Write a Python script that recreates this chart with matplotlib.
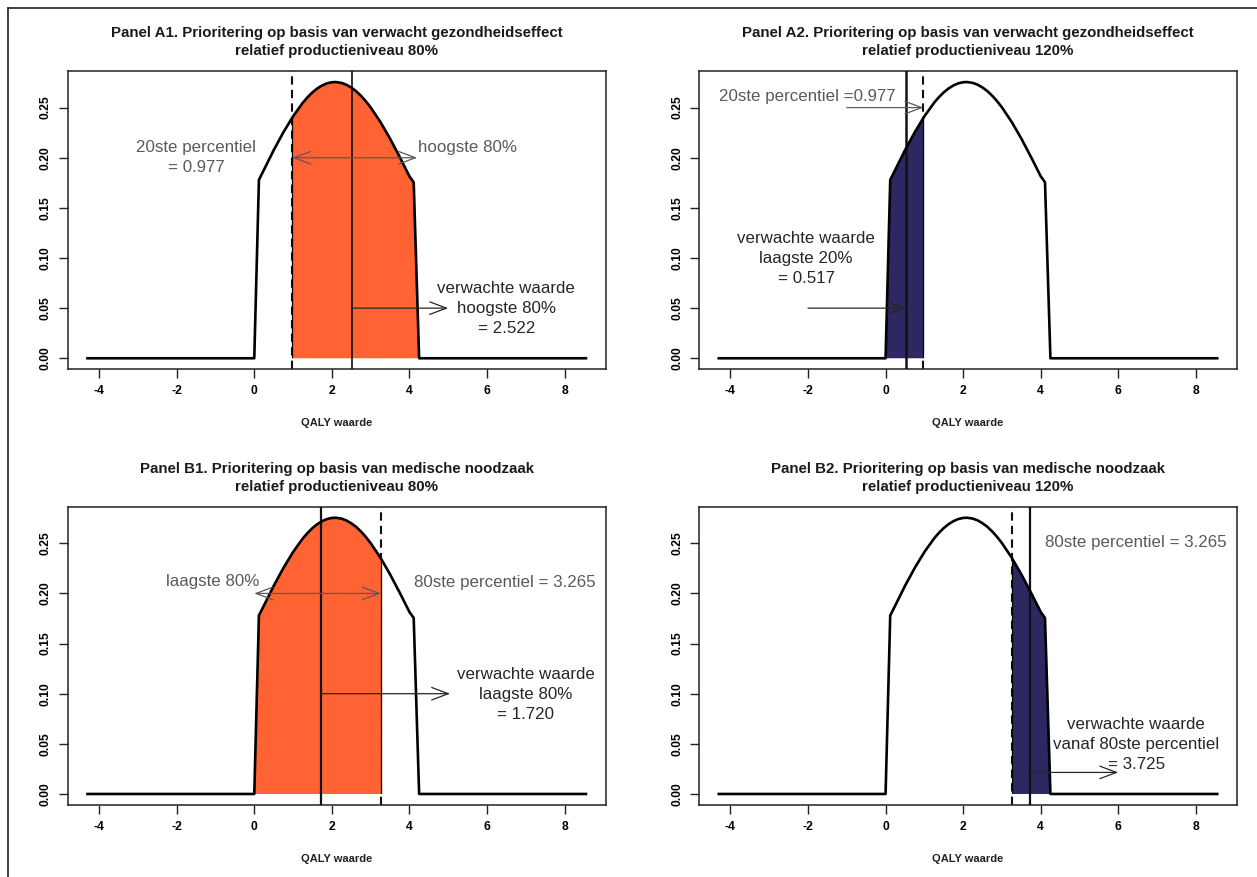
import matplotlib
matplotlib.use("Agg")
import matplotlib.pyplot as plt
from matplotlib.patches import Rectangle
from matplotlib.lines import Line2D

plt.rcParams['font.family'] = ['Liberation Sans', 'DejaVu Sans']

# ---- data ----
# density curve of QALY value
x_curve = [-4.3, 0.0, 0.12, 0.25, 0.5, 0.75, 1.0, 1.25, 1.375, 1.5, 1.625, 1.75, 1.875,
           2.0, 2.1, 2.25, 2.375, 2.5, 2.625, 2.75, 2.875, 3.0, 3.25, 3.5, 3.75, 4.0,
           4.11, 4.25, 8.55]
y_curve = [0.0, 0.0, 0.178, 0.188, 0.2075, 0.2253, 0.2413, 0.2548, 0.2604, 0.2652,
           0.2691, 0.2721, 0.2742, 0.2753, 0.2755, 0.2746, 0.2728, 0.2700, 0.2664,
           0.2618, 0.2564, 0.2502, 0.2358, 0.2191, 0.2007, 0.1815, 0.1755, 0.0, 0.0]

p20 = 0.977
p80 = 3.265
ev_high80 = 2.522
ev_low20 = 0.517
ev_low80 = 1.720
ev_from80 = 3.725

x_ticks = [-4, -2, 0, 2, 4, 6, 8]
y_ticks = [0.00, 0.05, 0.10, 0.15, 0.20, 0.25]

titles = [
    ("Panel A1. Prioritering op basis van verwacht gezondheidseffect", "relatief productieniveau 80%"),
    ("Panel A2. Prioritering op basis van verwacht gezondheidseffect", "relatief productieniveau 120%"),
    ("Panel B1. Prioritering op basis van medische noodzaak", "relatief productieniveau 80%"),
    ("Panel B2. Prioritering op basis van medische noodzaak", "relatief productieniveau 120%"),
]
xlabel = "QALY waarde"

ORANGE = '#FF6233'
NAVY = '#2B2862'
GRAY = '#5a5a5a'
DARK = '#262626'

W, H = 1257, 877
fig = plt.figure(figsize=(W / 100, H / 100), dpi=100)
fig.patch.set_facecolor('white')

ax_w, ax_h = 538 / W, 298.3 / H
lefts = [67.7 / W, 699 / W]
bottoms = [1 - 369.3 / H, 1 - 805 / H]
positions = [(lefts[0], bottoms[0]), (lefts[1], bottoms[0]),
             (lefts[0], bottoms[1]), (lefts[1], bottoms[1])]

axes = []
for i, (l, b) in enumerate(positions):
    ax = fig.add_axes([l, b, ax_w, ax_h])
    ax.set_xlim(-4.81, 9.06)
    ax.set_ylim(-0.011, 0.2865)
    ax.set_xticks(x_ticks)
    ax.set_xticklabels([str(t) for t in x_ticks])
    ax.set_yticks(y_ticks)
    ax.set_yticklabels(["%.2f" % t for t in y_ticks])
    ax.tick_params(axis='both', length=6.5, width=1.0, labelsize=8.7, color='#222222')
    ax.tick_params(axis='x', pad=5)
    ax.tick_params(axis='y', pad=5, labelrotation=90)
    for lab in ax.get_yticklabels():
        lab.set_va('center')
        lab.set_fontweight('bold')
    for lab in ax.get_xticklabels():
        lab.set_fontweight('bold')
    for s in ax.spines.values():
        s.set_linewidth(1.1)
        s.set_color('#222222')
    t1, t2 = titles[i]
    ax.text(0.5, 1 + (71 - 33.5) / 298.3, t1, transform=ax.transAxes, ha='center',
            va='center', fontsize=10.8, fontweight='bold', color='#1a1a1a')
    ax.text(0.5, 1 + (71 - 51.5) / 298.3, t2, transform=ax.transAxes, ha='center',
            va='center', fontsize=10.8, fontweight='bold', color='#1a1a1a')
    ax.text(0.5, -54 / 298.3, xlabel, transform=ax.transAxes, ha='center', va='center',
            fontsize=8, fontweight='bold', color='#222222')
    axes.append(ax)


def shade(ax, lo, hi, color, edges):
    poly = ax.fill_between(x_curve, y_curve, 0, facecolor=color, edgecolor='none', zorder=2)
    poly.set_clip_path(Rectangle((lo, -1), hi - lo, 2, transform=ax.transData))
    path = poly.get_paths()[0]
    for xb in edges:
        ln = ax.axvline(xb, color='k', lw=0.9, zorder=2.5)
        ln.set_clip_path(path, ax.transData)


def curve(ax):
    ax.plot(x_curve, y_curve, color='k', lw=1.9, zorder=4, solid_joinstyle='round')


def vdash(ax, x):
    ax.axvline(x, color='#111111', lw=1.5, linestyle=(0, (4, 2.5)), zorder=1.5)


def vsolid(ax, x, lw=1.5):
    ax.axvline(x, color='#111111', lw=lw, zorder=3)


def arrow(ax, start, end, color, style='->'):
    ax.annotate('', xy=end, xytext=start,
                arrowprops=dict(arrowstyle=style + ',head_length=1.2,head_width=0.45',
                                color=color, lw=0.9, shrinkA=0, shrinkB=0),
                zorder=5)


def label(ax, x, y, s, color, ha='center'):
    ax.text(x, y, s, ha=ha, va='center', fontsize=12.2, color=color,
            multialignment='center', linespacing=1.42, zorder=6)


# Panel A1
ax = axes[0]
vdash(ax, p20)
shade(ax, p20, x_curve[-1], ORANGE, [p20])
vsolid(ax, ev_high80, lw=1.2)
curve(ax)
arrow(ax, (p20, 0.20), (4.2, 0.20), GRAY, '<->')
label(ax, -1.5, 0.200, "20ste percentiel\n= 0.977", GRAY)
label(ax, 4.23, 0.2104, "hoogste 80%", GRAY, ha='left')
arrow(ax, (ev_high80, 0.05), (5.0, 0.05), DARK)
label(ax, 6.5, 0.050, "verwachte waarde\nhoogste 80%\n= 2.522", DARK)

# Panel A2
ax = axes[1]
vdash(ax, p20)
shade(ax, x_curve[0], p20, NAVY, [p20])
vsolid(ax, ev_low20, lw=1.8)
curve(ax)
arrow(ax, (-1.0, 0.25), (p20, 0.25), GRAY)
label(ax, -2.03, 0.261, "20ste percentiel =0.977", GRAY)
label(ax, -2.05, 0.0993, "verwachte waarde\nlaagste 20%\n= 0.517", DARK)
arrow(ax, (-2.0, 0.05), (ev_low20, 0.05), DARK)

# Panel B1
ax = axes[2]
vdash(ax, p80)
shade(ax, x_curve[0], p80, ORANGE, [p80])
vsolid(ax, ev_low80, lw=1.6)
curve(ax)
arrow(ax, (0.0, 0.20), (p80, 0.20), GRAY, '<->')
label(ax, -1.06, 0.2116, "laagste 80%", GRAY)
label(ax, 6.47, 0.211, "80ste percentiel = 3.265", GRAY)
arrow(ax, (ev_low80, 0.10), (5.05, 0.10), DARK)
label(ax, 7.0, 0.0993, "verwachte waarde\nlaagste 80%\n= 1.720", DARK)

# Panel B2
ax = axes[3]
vdash(ax, p80)
shade(ax, p80, x_curve[-1], NAVY, [p80])
vsolid(ax, ev_from80, lw=1.6)
curve(ax)
label(ax, 6.46, 0.251, "80ste percentiel = 3.265", GRAY)
label(ax, 6.46, 0.0497, "verwachte waarde\nvanaf 80ste percentiel\n= 3.725", DARK)
arrow(ax, (ev_from80, 0.0215), (6.0, 0.0215), DARK)

# outer frame (left and top edges visible)
fig.add_artist(Line2D([8 / W, 8 / W], [0, 1 - 8 / H], transform=fig.transFigure,
                      color='#222222', lw=1.2))
fig.add_artist(Line2D([8 / W, 1], [1 - 8 / H, 1 - 8 / H], transform=fig.transFigure,
                      color='#222222', lw=1.2))

fig.savefig('out.png', dpi=100)
